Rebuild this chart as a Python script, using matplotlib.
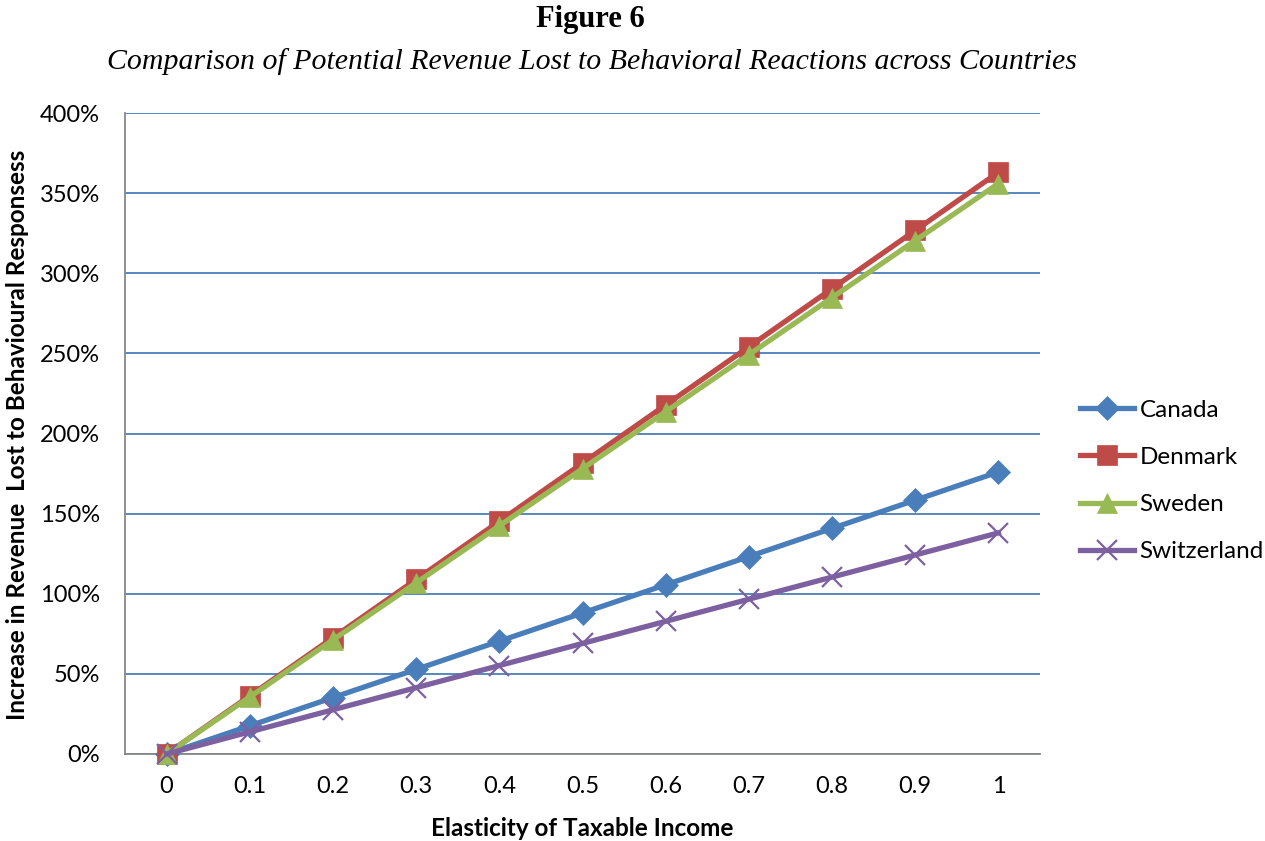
import matplotlib
matplotlib.use("Agg")
import matplotlib.pyplot as plt
from matplotlib.ticker import FuncFormatter

x_labels = ["0", "0.1", "0.2", "0.3", "0.4", "0.5", "0.6", "0.7", "0.8", "0.9", "1"]
canada = [0, 17.6, 35.2, 52.8, 70.4, 88.0, 105.6, 123.2, 140.8, 158.4, 176.0]
denmark = [0, 36.3, 72.6, 108.9, 145.2, 181.5, 217.8, 254.1, 290.4, 326.7, 363.0]
sweden = [0, 35.6, 71.2, 106.8, 142.4, 178.0, 213.6, 249.2, 284.8, 320.4, 356.0]
switzerland = [0, 13.8, 27.6, 41.4, 55.2, 69.0, 82.8, 96.6, 110.4, 124.2, 138.0]
y_ticks = [0, 50, 100, 150, 200, 250, 300, 350, 400]

W, H = 1265, 841
fig = plt.figure(figsize=(W / 100, H / 100), dpi=100)
ax = fig.add_axes([125 / W, 1 - 754 / H, (1040 - 125) / W, (754 - 113) / H])

xs = list(range(len(x_labels)))
sans = ["Lato", "DejaVu Sans"]

series = [
    ("Canada", canada, "#4A7EBB", "D", 12),
    ("Denmark", denmark, "#BE4B48", "s", 14),
    ("Sweden", sweden, "#98B954", "^", 15),
    ("Switzerland", switzerland, "#7D60A0", "x", 14),
]
for name, vals, col, mk, ms in series:
    kw = dict(markeredgewidth=1.6) if mk == "x" else dict(markeredgewidth=0.5)
    ax.plot(xs, vals, color=col, lw=3.8, marker=mk, markersize=ms,
            markerfacecolor=col, markeredgecolor=col, label=name, zorder=3,
            clip_on=False, **kw)

ax.set_xlim(-0.5, 10.5)
ax.set_ylim(0, 400)
ax.set_yticks(y_ticks)
ax.yaxis.set_major_formatter(FuncFormatter(lambda v, p: f"{int(v)}%"))
ax.set_xticks(xs)
ax.set_xticklabels(x_labels)
ax.grid(axis="y", color="#4A7EBB", lw=1.3)
ax.set_axisbelow(True)
for s in ["top", "right"]:
    ax.spines[s].set_visible(False)
for s in ["left", "bottom"]:
    ax.spines[s].set_color("#888888")
    ax.spines[s].set_linewidth(1.3)
ax.tick_params(axis="both", length=0, labelsize=17)
ax.tick_params(axis="y", pad=18)
ax.tick_params(axis="x", pad=16)
for lbl in ax.get_xticklabels() + ax.get_yticklabels():
    lbl.set_fontfamily(sans)

serif = ["Liberation Serif", "DejaVu Serif"]
fig.text(590 / W, 1 - 20 / H, "Figure 6", ha="center", va="center",
         fontsize=22, fontweight="bold", family=serif)
fig.text(592 / W, 1 - 62 / H,
         "Comparison of Potential Revenue Lost to Behavioral Reactions across Countries",
         ha="center", va="center", fontsize=21.5, style="italic", family=serif)
fig.text(18 / W, 1 - 435 / H, "Increase in Revenue  Lost to Behavioural Responsess",
         rotation=90, ha="center", va="center", fontsize=17.5, fontweight="bold", family=sans)
fig.text(582 / W, 1 - 828 / H, "Elasticity of Taxable Income", ha="center", va="center",
         fontsize=17.5, fontweight="bold", family=sans)

leg = ax.legend(loc="center left", bbox_to_anchor=(1068 / W, 1 - 481 / H),
                bbox_transform=fig.transFigure, frameon=False,
                prop={"family": sans, "size": 17.5}, handlelength=2.2,
                labelspacing=1.08, handletextpad=0.25, borderpad=0)

fig.savefig("out.png", dpi=100)
